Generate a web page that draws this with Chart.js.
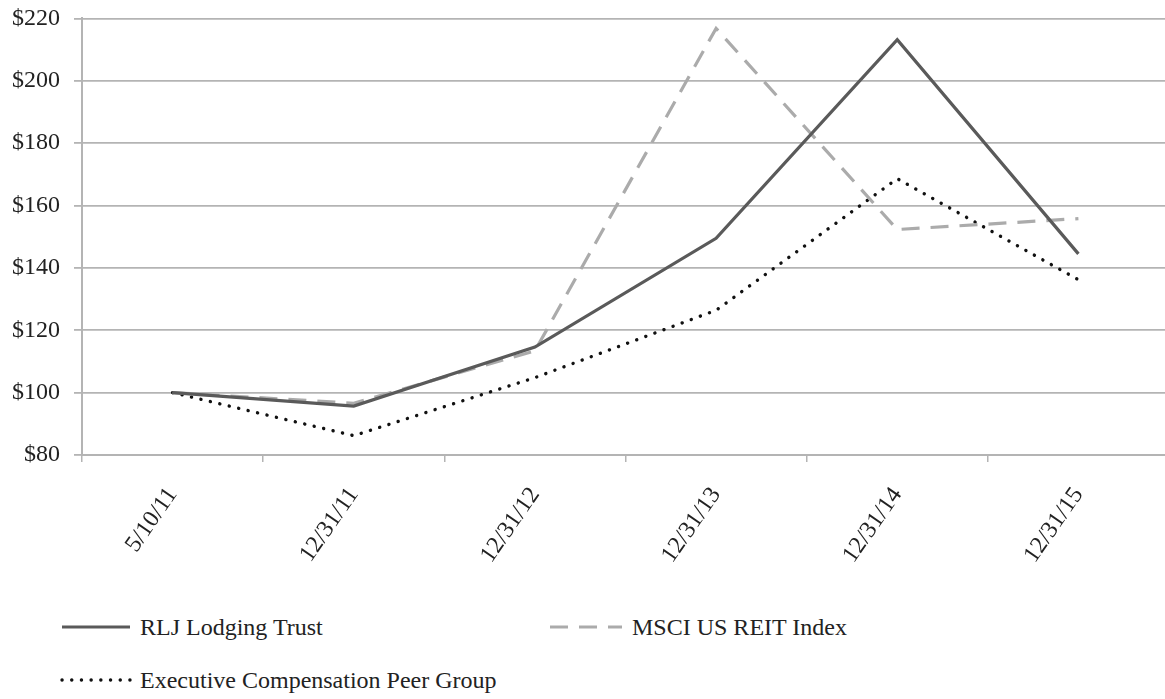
<!DOCTYPE html>
<html>
<head>
<meta charset="utf-8">
<script src="https://cdn.jsdelivr.net/npm/chart.js@4/dist/chart.umd.min.js"></script>
<style>
  html, body { margin: 0; padding: 0; background: #fff; overflow: hidden; }
  #wrap { position: relative; width: 1165px; height: 699px; overflow: hidden; }
  #chart { position: absolute; left: 0; top: -10px; }
  .leg { position: absolute; font-family: "Liberation Serif", serif; font-size: 24px; line-height: 28px; color: #222;
         display: flex; align-items: center; white-space: nowrap; }
  .leg canvas { margin-right: 8px; }
</style>
</head>
<body>
<div id="wrap">
  <canvas id="chart" width="1175" height="580"></canvas>
  <div class="leg" style="left:60px; top:613px;"><canvas id="lg1" width="72" height="10"></canvas>RLJ Lodging Trust</div>
  <div class="leg" style="left:548px; top:613px;"><canvas id="lg2" width="76" height="10"></canvas>MSCI US REIT Index</div>
  <div class="leg" style="left:60px; top:666px;"><canvas id="lg3" width="72" height="10"></canvas>Executive Compensation Peer Group</div>
</div>
<script>
// Valores (base $100)
const categorias = ['5/10/11', '12/31/11', '12/31/12', '12/31/13', '12/31/14', '12/31/15'];
const rljLodging = [100, 95.7, 114.6, 149.5, 213.2, 144.5];
const msciReit = [100, 96.6, 113.4, 216.8, 152.3, 155.8];
const peerGroup = [100, 86.2, 104.8, 126.4, 168.6, 136.2];
const ticksY = [80, 100, 120, 140, 160, 180, 200, 220];

const estilos = {
  rlj: { cor: '#5a5a5a', largura: 3.2, dash: [], cap: 'butt' },
  msci: { cor: '#ababab', largura: 3.2, dash: [18, 11], cap: 'butt' },
  peer: { cor: '#111111', largura: 3.4, dash: [0.1, 9.6], cap: 'round' }
};

const gradeCor = '#b4b4b4';
const fonteEixo = { family: 'Liberation Serif', size: 24 };

new Chart(document.getElementById('chart'), {
  type: 'line',
  data: {
    labels: categorias,
    datasets: [
      { label: 'RLJ Lodging Trust', data: rljLodging, borderColor: estilos.rlj.cor,
        borderWidth: estilos.rlj.largura, borderDash: estilos.rlj.dash, borderCapStyle: estilos.rlj.cap, pointRadius: 0, tension: 0 },
      { label: 'MSCI US REIT Index', data: msciReit, borderColor: estilos.msci.cor,
        borderWidth: estilos.msci.largura, borderDash: estilos.msci.dash, borderCapStyle: estilos.msci.cap, pointRadius: 0, tension: 0 },
      { label: 'Executive Compensation Peer Group', data: peerGroup, borderColor: estilos.peer.cor,
        borderWidth: estilos.peer.largura, borderDash: estilos.peer.dash, borderCapStyle: estilos.peer.cap, pointRadius: 0, tension: 0 }
    ]
  },
  options: {
    responsive: false,
    animation: false,
    devicePixelRatio: 1,
    layout: { padding: { top: 0, right: 6, left: 0, bottom: 0 } },
    plugins: { legend: { display: false }, tooltip: { enabled: false } },
    scales: {
      x: {
        offset: true,
        grid: { offset: true, drawOnChartArea: false, drawTicks: true, tickLength: 7, color: gradeCor, lineWidth: 1.5 },
        border: { color: gradeCor, width: 2 },
        ticks: { minRotation: 55, maxRotation: 55, font: fonteEixo, color: '#222', padding: 20 },
        afterFit: s => { s.height = 115; }
      },
      y: {
        min: ticksY[0],
        max: ticksY[ticksY.length - 1],
        afterBuildTicks: s => { s.ticks = ticksY.map(v => ({ value: v })); },
        grid: { color: gradeCor, lineWidth: 1.8, tickLength: 8 },
        border: { color: gradeCor, width: 2 },
        ticks: { font: fonteEixo, color: '#222', padding: 14, callback: v => '$' + v },
        afterFit: s => { s.width = 82; }
      }
    }
  }
});

// Amostras da legenda
function amostra(id, est) {
  const ctx = document.getElementById(id).getContext('2d');
  ctx.strokeStyle = est.cor;
  ctx.lineWidth = est.largura;
  ctx.lineCap = est.cap;
  ctx.setLineDash(est.dash);
  ctx.beginPath();
  ctx.moveTo(2, 5);
  ctx.lineTo(ctx.canvas.width - 2, 5);
  ctx.stroke();
}
amostra('lg1', estilos.rlj);
amostra('lg2', estilos.msci);
amostra('lg3', estilos.peer);
</script>
</body>
</html>
